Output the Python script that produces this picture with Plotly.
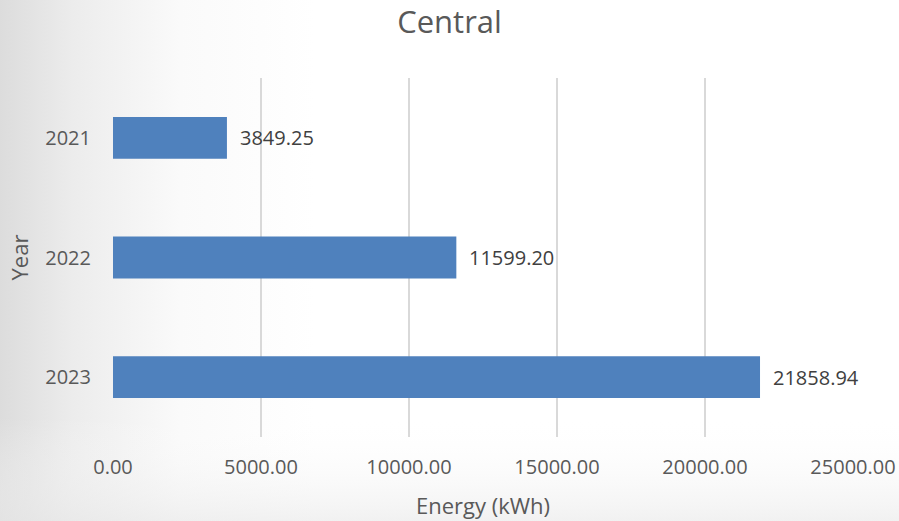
import base64
import plotly.graph_objects as go

# Annual energy for the Central site
years = ["2021", "2022", "2023"]
energy_kwh = [3849.25, 11599.20, 21858.94]
x_ticks = [0, 5000, 10000, 15000, 20000, 25000]

FONT = "Open Sans, Liberation Sans, sans-serif"
GREY = "#595959"

# soft grey slide backdrop fading towards the right
svg = """<svg xmlns='http://www.w3.org/2000/svg' width='899' height='521'>
<defs>
<linearGradient id='h' x1='0' y1='0' x2='1' y2='0'>
<stop offset='0' stop-color='#dcdcdc'/>
<stop offset='0.08' stop-color='#ececec'/>
<stop offset='0.2' stop-color='#fafafa'/>
<stop offset='0.35' stop-color='#ffffff'/>
</linearGradient>
<linearGradient id='v' x1='0' y1='0' x2='0' y2='1'>
<stop offset='0.8' stop-color='#ffffff' stop-opacity='0'/>
<stop offset='1' stop-color='#e8e8e8' stop-opacity='0.6'/>
</linearGradient>
</defs>
<rect width='899' height='521' fill='url(#h)'/>
<rect width='899' height='521' fill='url(#v)'/>
</svg>"""
bg_src = "data:image/svg+xml;base64," + base64.b64encode(svg.encode()).decode()

fig = go.Figure(
    go.Bar(
        x=energy_kwh,
        y=years,
        orientation="h",
        width=0.35,
        marker=dict(color="#4f81bd", line=dict(width=0)),
        hoverinfo="x+y",
    )
)

# value labels just past the end of each bar (category axis: y is the index)
for i, v in enumerate(energy_kwh):
    fig.add_annotation(
        x=v, y=i, xref="x", yref="y",
        text=f"{v:.2f}",
        showarrow=False,
        xanchor="left", yanchor="middle",
        xshift=11,
        font=dict(family=FONT, size=20, color="#404040"),
    )

# y-axis title, set a little further out than the axis title would sit
fig.add_annotation(
    x=0, y=0.5, xref="paper", yref="paper",
    text="Year", textangle=-90,
    showarrow=False,
    xanchor="center", yanchor="middle",
    xshift=-95,
    font=dict(family=FONT, size=22, color=GREY),
)

fig.update_layout(
    width=899,
    height=521,
    margin=dict(l=113, r=46, t=78, b=84),
    paper_bgcolor="rgba(0,0,0,0)",
    plot_bgcolor="rgba(0,0,0,0)",
    showlegend=False,
    title=dict(
        text="Central",
        x=0.5,
        xanchor="center",
        y=0.957,
        yanchor="middle",
        font=dict(family=FONT, size=31, color=GREY),
    ),
    images=[
        dict(
            source=bg_src,
            xref="paper", yref="paper",
            x=-113 / 740, y=1 + 78 / 359,
            sizex=899 / 740, sizey=521 / 359,
            xanchor="left", yanchor="top",
            sizing="stretch",
            layer="below",
        )
    ],
    xaxis=dict(
        range=[0, 25000],
        tickvals=x_ticks,
        tickformat=".2f",
        automargin=False,
        showgrid=True,
        gridcolor="#d9d9d9",
        gridwidth=1.5,
        zeroline=False,
        showline=False,
        ticks="",
        ticklabelstandoff=16,
        tickfont=dict(family=FONT, size=20, color=GREY),
        title=dict(
            text="Energy (kWh)",
            standoff=19,
            font=dict(family=FONT, size=22, color=GREY),
        ),
    ),
    yaxis=dict(
        type="category",
        categoryorder="array",
        categoryarray=years,
        range=[2.5, -0.5],
        automargin=False,
        showgrid=False,
        zeroline=False,
        showline=False,
        ticks="",
        ticklabelstandoff=21,
        tickfont=dict(family=FONT, size=20, color=GREY),
    ),
)

fig.write_html("out.html")
